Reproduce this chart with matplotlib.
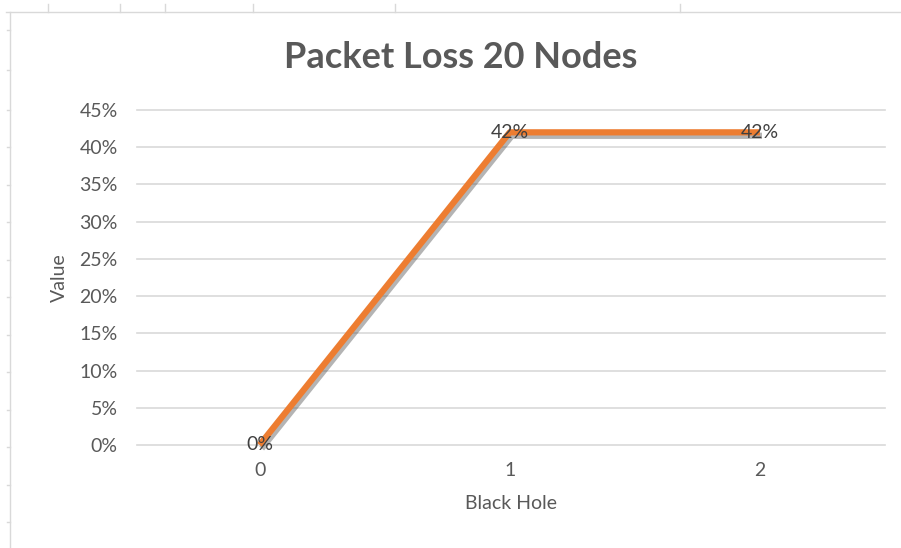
import matplotlib.pyplot as plt
import matplotlib.patheffects as pe
from matplotlib.ticker import PercentFormatter
from matplotlib.lines import Line2D

black_hole = [0, 1, 2]
packet_loss = [0.00, 0.42, 0.42]
y_ticks = [0.00, 0.05, 0.10, 0.15, 0.20, 0.25, 0.30, 0.35, 0.40, 0.45]

plt.rcParams['font.family'] = ['Lato', 'DejaVu Sans']

fig = plt.figure(figsize=(9.01, 5.48), dpi=100)
ax = fig.add_axes([137 / 901, 103 / 548, 748 / 901, 335 / 548])

# spreadsheet cell borders around the chart
fig.add_artist(Line2D([6 / 901, 1], [1 - 12 / 548] * 2, color='#d9d9d9', lw=1))
fig.add_artist(Line2D([10 / 901] * 2, [0, 1 - 12 / 548], color='#d9d9d9', lw=1))
for cx in [48, 120, 165, 253, 395, 680]:
    fig.add_artist(Line2D([cx / 901] * 2, [1 - 12 / 548, 1 - 4 / 548], color='#d9d9d9', lw=1))
for ry in [30, 70, 110, 147, 185, 222, 260, 297, 335, 372, 410, 447, 485, 522]:
    fig.add_artist(Line2D([7 / 901, 10 / 901], [1 - ry / 548] * 2, color='#d9d9d9', lw=1))

# gridlines drawn by hand so the 0% line is not clipped at the axes edge
for t in y_ticks:
    ax.axhline(t, color='#d9d9d9', lw=1.2, zorder=1, clip_on=False)

ax.plot(black_hole, packet_loss, color='#ed7d31', lw=4.5, solid_capstyle='butt', zorder=3,
        clip_on=False,
        path_effects=[pe.SimpleLineShadow(offset=(1.5, -2.5), alpha=0.4, shadow_color='#444444'),
                      pe.Normal()])

for x, y in zip(black_hole, packet_loss):
    ax.text(x, y, f'{y:.0%}', ha='center', va='center', fontsize=14, color='#404040', zorder=4)

ax.set_xlim(-0.49, 2.5)
ax.set_ylim(0, 0.45)
ax.set_yticks(y_ticks)
ax.yaxis.set_major_formatter(PercentFormatter(1.0, decimals=0))
ax.set_xticks(black_hole)
for s in ax.spines.values():
    s.set_visible(False)
ax.tick_params(length=0, labelsize=14, labelcolor='#595959')
ax.tick_params(axis='y', pad=14)
ax.tick_params(axis='x', pad=12)

ax.set_xlabel('Black Hole', fontsize=14, color='#595959', labelpad=12)
ax.set_ylabel('Value', fontsize=14, color='#595959', labelpad=8)
fig.text(461 / 901, 1 - 57 / 548, 'Packet Loss 20 Nodes', ha='center', va='center',
         fontsize=26, fontweight='bold', color='#595959')

fig.savefig('out.png', dpi=100)
